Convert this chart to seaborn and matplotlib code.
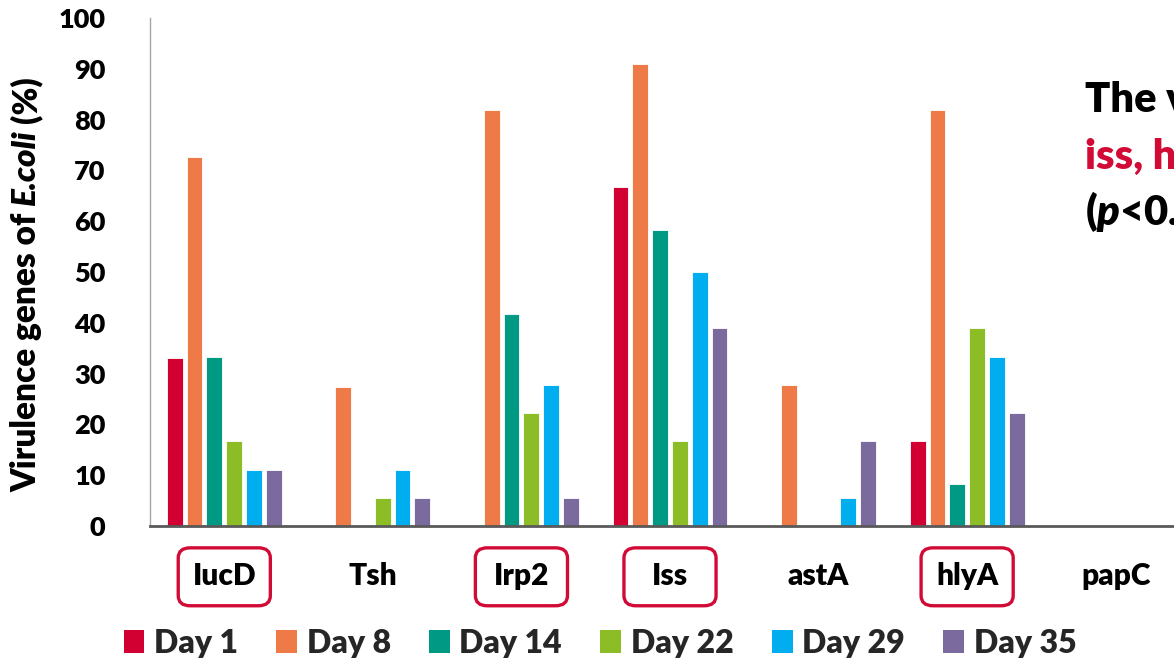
import matplotlib
matplotlib.use("Agg")
import matplotlib.pyplot as plt
import matplotlib.transforms as mtransforms
from matplotlib.patches import FancyBboxPatch, Patch
import numpy as np
import pandas as pd
import seaborn as sns

# Detection rate (%) of each virulence gene per sampling day
genes = ["IucD", "Tsh", "Irp2", "Iss", "astA", "hlyA", "papC"]
days = ["Day 1", "Day 8", "Day 14", "Day 22", "Day 29", "Day 35"]
day1 = [33.0, 0.0, 0.0, 66.7, 0.0, 16.7, 0.0]
day8 = [72.7, 27.3, 81.8, 90.9, 27.8, 81.8, 0.0]
day14 = [33.3, 0.0, 41.7, 58.3, 0.0, 8.3, 0.0]
day22 = [16.7, 5.6, 22.2, 16.7, 0.0, 38.9, 0.0]
day29 = [11.1, 11.1, 27.8, 50.0, 5.6, 33.3, 0.0]
day35 = [11.1, 5.6, 5.6, 38.9, 16.7, 22.2, 0.0]
highlighted = ["IucD", "Irp2", "Iss", "hlyA"]
colors = ["#D20032", "#EE7B47", "#009A84", "#8CBC26", "#00AEEF", "#7A6A9E"]
accent = "#D20A36"

sns.set_theme(style="white")
plt.rcParams["font.family"] = ["Lato", "DejaVu Sans"]
plt.rcParams["font.weight"] = "heavy"
plt.rcParams["mathtext.fontset"] = "custom"
plt.rcParams["mathtext.bfit"] = "Lato:italic:heavy"
plt.rcParams["mathtext.rm"] = "Lato:heavy"

series = [day1, day8, day14, day22, day29, day35]
df = pd.DataFrame({
    "gene": np.repeat([genes], len(days), axis=0).ravel(),
    "day": np.repeat(days, len(genes)),
    "value": np.concatenate(series),
})

W, H = 1174, 663
fig = plt.figure(figsize=(W / 100, H / 100), dpi=100)
ax = fig.add_axes([150 / W, 1 - 526 / H, 1040 / W, 508 / H])

sns.barplot(data=df, x="gene", y="value", hue="day", order=genes,
            hue_order=days, palette=colors, saturation=1, width=0.8, gap=0.2,
            edgecolor="white", linewidth=0.6, legend=False, ax=ax)

ax.set_xlim(-0.5, len(genes) - 0.5)
ax.set_ylim(0, 100)
ax.set_yticks(np.arange(0, 101, 10))
ax.set_xlabel("")
ax.set_ylabel("")
ax.tick_params(axis="y", length=0, pad=32, labelsize=19.5)
ax.tick_params(axis="x", length=0, pad=26, labelsize=21.5)
for lbl in ax.get_xticklabels() + ax.get_yticklabels():
    lbl.set_fontweight("heavy")
    lbl.set_color("black")

for side in ["top", "right"]:
    ax.spines[side].set_visible(False)
ax.spines["left"].set_color("#A6A6A6")
ax.spines["left"].set_linewidth(1.0)
ax.spines["bottom"].set_color("#595959")
ax.spines["bottom"].set_linewidth(2.0)

# Y-axis title assembled from pieces so the species name can be italic
label_kw = dict(rotation=90, fontsize=24, fontweight="heavy", color="black")
t1 = fig.text(26 / W, 0.5, "Virulence genes of", ha="center", va="bottom",
              **label_kw)
t2 = fig.text(0, 0, "E.coli", ha="center", va="bottom", style="italic",
              **label_kw)
t3 = fig.text(0, 0, "(%)", ha="center", va="bottom", **label_kw)

renderer = fig.canvas.get_renderer()
gap_px = 7
b1 = t1.get_window_extent(renderer)
b2 = t2.get_window_extent(renderer)
b3 = t3.get_window_extent(renderer)
total = b1.height + b2.height + b3.height + 2 * gap_px
y_start = (H - 284) - total / 2
t1.set_position((26 / W, y_start / H))
t2.set_position((26 / W, (y_start + b1.height + gap_px) / H))
t3.set_position((26 / W, (y_start + b1.height + b2.height + 2 * gap_px) / H))

# Rounded frames around the significant genes
trans = mtransforms.blended_transform_factory(ax.transData, ax.transAxes)
for g in highlighted:
    xc = genes.index(g)
    box = FancyBboxPatch((xc - 0.31, -0.157), 0.62, 0.114,
                         boxstyle="round,pad=0,rounding_size=0.08",
                         transform=trans, clip_on=False,
                         facecolor="none", edgecolor=accent, linewidth=2.4,
                         mutation_aspect=0.25)
    ax.add_patch(box)

handles = [Patch(facecolor=c, edgecolor="none", label=d)
           for c, d in zip(colors, days)]
fig.legend(handles=handles, loc="center", bbox_to_anchor=(0.511, 1 - 643 / H),
           ncol=6, frameon=False, handlelength=0.65, handleheight=0.7,
           handletextpad=0.3, columnspacing=1.2,
           prop={"weight": "heavy", "size": 23})

# Side annotation
fig.text(1085 / W, 1 - 100 / H, "The virulence genes", fontsize=30,
         fontweight="heavy", color="black", va="center", ha="left")
fig.text(1085 / W, 1 - 157 / H, "iss, hlyA", fontsize=30,
         fontweight="heavy", color=accent, va="center", ha="left")
fig.text(1085 / W, 1 - 212 / H, r"($\mathbfit{p}$<0.05)", fontsize=30,
         fontweight="heavy", color="black", va="center", ha="left")

fig.savefig("out.png", dpi=100, facecolor="white")
